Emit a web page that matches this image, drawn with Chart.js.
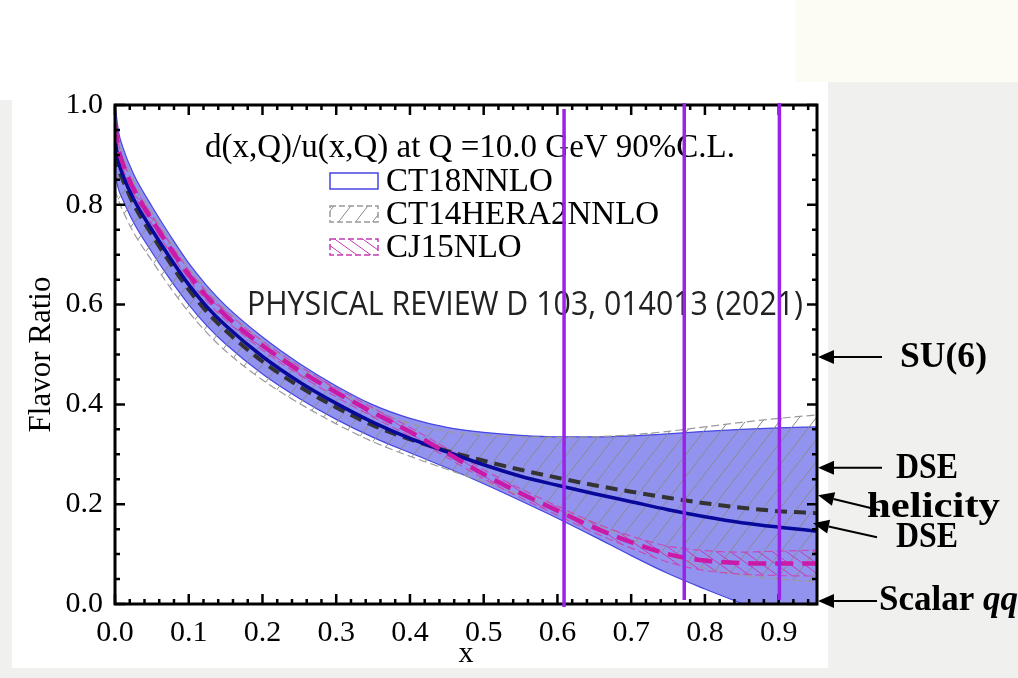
<!DOCTYPE html>
<html lang="en">
<head>
<meta charset="UTF-8" />
<title>d/u flavor ratio</title>
<script src="https://cdn.jsdelivr.net/npm/chart.js"></script>
<style>
    html, body { margin: 0; padding: 0; width: 1018px; height: 678px; overflow: hidden; background: #f0f0ee; }
    .topband { position: absolute; left: 0; top: 0; width: 800px; height: 100px; background: #fff; }
    .cream { position: absolute; left: 795px; top: 0; width: 223px; height: 82px; background: #fcfcf4; }
    .panel { position: absolute; left: 12px; top: 82px; width: 816px; height: 586px; background: #fff; }
    #wrap { position: absolute; left: 0; top: 0; width: 1018px; height: 678px; }
</style>
</head>
<body>
<div class="topband"></div>
<div class="cream"></div>
<div class="panel"></div>
<div id="wrap"><canvas id="ratioChart"></canvas></div>

<script>
// x grid and the curves
const xs = [0, 0.005, 0.01, 0.025, 0.05, 0.075, 0.1, 0.125, 0.15, 0.2, 0.25, 0.3, 0.35, 0.4, 0.45, 0.5, 0.55, 0.6, 0.65, 0.7, 0.75, 0.8, 0.85, 0.9, 0.952];

const ct18Central = [0.93, 0.885, 0.862, 0.812, 0.75, 0.693, 0.64, 0.595, 0.558, 0.496, 0.445, 0.402, 0.364, 0.332, 0.305, 0.279, 0.256, 0.238, 0.221, 0.205, 0.189, 0.175, 0.163, 0.154, 0.146];
const ct18Upper   = [1.0, 0.945, 0.918, 0.862, 0.797, 0.738, 0.683, 0.637, 0.598, 0.535, 0.482, 0.437, 0.399, 0.372, 0.354, 0.344, 0.338, 0.335, 0.335, 0.337, 0.341, 0.346, 0.35, 0.353, 0.355];
const ct18Lower   = [0.86, 0.83, 0.812, 0.765, 0.705, 0.65, 0.6, 0.557, 0.521, 0.461, 0.412, 0.37, 0.334, 0.303, 0.273, 0.241, 0.207, 0.172, 0.135, 0.097, 0.061, 0.03, 0.001, -0.027, -0.055];

const ct14Central = [0.90, 0.87, 0.852, 0.802, 0.74, 0.683, 0.63, 0.585, 0.548, 0.486, 0.436, 0.394, 0.358, 0.33, 0.307, 0.287, 0.269, 0.253, 0.238, 0.225, 0.213, 0.202, 0.193, 0.186, 0.182];
const ct14Upper   = [0.97, 0.925, 0.9, 0.848, 0.785, 0.727, 0.673, 0.628, 0.59, 0.526, 0.474, 0.428, 0.39, 0.362, 0.346, 0.338, 0.335, 0.334, 0.335, 0.339, 0.346, 0.355, 0.364, 0.372, 0.379];
const ct14Lower   = [0.83, 0.808, 0.79, 0.745, 0.688, 0.634, 0.585, 0.543, 0.507, 0.449, 0.402, 0.361, 0.325, 0.296, 0.27, 0.245, 0.218, 0.19, 0.16, 0.13, 0.098, 0.072, 0.058, 0.05, 0.044];

const cj15Central = [0.96, 0.91, 0.885, 0.832, 0.77, 0.713, 0.66, 0.615, 0.578, 0.518, 0.468, 0.424, 0.384, 0.345, 0.303, 0.26, 0.222, 0.187, 0.153, 0.124, 0.1, 0.087, 0.082, 0.081, 0.081];
const cj15Upper   = [0.975, 0.92, 0.894, 0.841, 0.779, 0.722, 0.669, 0.624, 0.587, 0.527, 0.477, 0.433, 0.393, 0.354, 0.312, 0.269, 0.231, 0.196, 0.163, 0.136, 0.116, 0.107, 0.104, 0.106, 0.108];
const cj15Lower   = [0.945, 0.9, 0.876, 0.823, 0.761, 0.704, 0.651, 0.606, 0.569, 0.509, 0.459, 0.415, 0.375, 0.336, 0.294, 0.251, 0.213, 0.178, 0.143, 0.112, 0.084, 0.067, 0.06, 0.057, 0.056];

// purple vertical markers
const purpleX      = [0.609, 0.772, 0.901];
const purpleTop    = [0.992, 1.004, 1.004];
const purpleBottom = [-0.006, 0.008, 0.008];

// labels + arrow targets on the right
const noteLabels = ['SU(6)', 'DSE', 'helicity', 'DSE', 'Scalar qq'];
const noteY      = [0.495, 0.273, 0.218, 0.162, 0.006];

const legendLabels = ['CT18NNLO', 'CT14HERA2NNLO', 'CJ15NLO'];
const legendTitle = 'd(x,Q)/u(x,Q) at Q =10.0 GeV 90%C.L.';
const sourceNote = 'PHYSICAL REVIEW D 103, 014013 (2021)';

const serif = '"Liberation Serif", "Times New Roman", serif';

function hatchPattern(color, w, h, dir) {
    const c = document.createElement('canvas');
    c.width = w; c.height = h;
    const g = c.getContext('2d');
    g.strokeStyle = color;
    g.lineWidth = 1;
    g.beginPath();
    if (dir > 0) { g.moveTo(-w, 2 * h); g.lineTo(2 * w, -h); }
    else { g.moveTo(-w, -h); g.lineTo(2 * w, 2 * h); }
    g.stroke();
    return g.createPattern(c, 'repeat');
}

const blueFill = 'rgba(95, 95, 232, 0.68)';
const greyHatch = hatchPattern('#8a8a8a', 17, 22, 1);
const pinkHatch = hatchPattern('#c43cb4', 14, 10, -1);

const pts = ys => xs.map((x, i) => ({ x: x, y: ys[i] }));
const vline = i => [{ x: purpleX[i], y: purpleTop[i] }, { x: purpleX[i], y: purpleBottom[i] }];

const edge = (data, color, dash, fill, bg, order) => ({
    data: data, borderColor: color, borderWidth: 1.2, borderDash: dash,
    fill: fill, backgroundColor: bg, order: order,
    pointRadius: 0, cubicInterpolationMode: 'monotone'
});
const central = (data, color, width, dash, order) => ({
    data: data, borderColor: color, borderWidth: width, borderDash: dash,
    fill: false, order: order, pointRadius: 0, cubicInterpolationMode: 'monotone'
});
const purple = i => ({
    data: vline(i), borderColor: '#9b22e8', borderWidth: 3.5, fill: false,
    pointRadius: 0, order: 1, clip: false
});

const FRAME_AFTER = 8; // draw frame/legend after the CJ15 central line, before purple markers

const frameAndLegend = {
    id: 'frameAndLegend',
    afterDatasetDraw(chart, args) {
        if (args.index !== FRAME_AFTER) return;
        const { ctx, chartArea: a, scales: { x, y } } = chart;
        ctx.save();
        ctx.strokeStyle = '#000';
        ctx.lineWidth = 2.5;
        ctx.setLineDash([]);
        // inward ticks, all four sides
        for (let i = 0; i * 0.02 <= 0.952; i++) {
            const px = x.getPixelForValue(i * 0.02);
            const len = i % 5 === 0 ? 10 : 5;
            ctx.beginPath();
            ctx.moveTo(px, a.bottom); ctx.lineTo(px, a.bottom - len);
            ctx.moveTo(px, a.top); ctx.lineTo(px, a.top + len);
            ctx.stroke();
        }
        for (let i = 0; i <= 20; i++) {
            const py = y.getPixelForValue(i * 0.05);
            const len = i % 4 === 0 ? 10 : 5;
            ctx.beginPath();
            ctx.moveTo(a.left, py); ctx.lineTo(a.left + len, py);
            ctx.moveTo(a.right, py); ctx.lineTo(a.right - len, py);
            ctx.stroke();
        }
        ctx.lineWidth = 3;
        ctx.strokeRect(a.left, a.top, a.right - a.left, a.bottom - a.top);

        // legend
        ctx.fillStyle = '#000';
        ctx.textBaseline = 'middle';
        ctx.textAlign = 'left';
        ctx.font = '33px ' + serif;
        ctx.fillText(legendTitle, 205, 148);

        const rows = [181, 214, 247];
        ctx.font = '33px ' + serif;
        legendLabels.forEach((lab, i) => {
            const by = rows[i] - 8;
            ctx.save();
            ctx.lineWidth = 1.5;
            if (i === 0) {
                ctx.fillStyle = '#fff';
                ctx.strokeStyle = '#4646e0';
            } else if (i === 1) {
                ctx.fillStyle = greyHatch;
                ctx.strokeStyle = '#999';
                ctx.setLineDash([6, 3]);
            } else {
                ctx.fillStyle = pinkHatch;
                ctx.strokeStyle = '#c43cb4';
                ctx.setLineDash([6, 3]);
            }
            ctx.fillRect(330, by, 48, 16);
            ctx.strokeRect(330, by, 48, 16);
            ctx.restore();
            ctx.fillText(lab, 386, rows[i] + 1);
        });

        // source reference, squeezed to the width it has in the figure
        ctx.font = '32px "Open Sans", "Liberation Sans", sans-serif';
        ctx.fillStyle = '#222';
        const w = ctx.measureText(sourceNote).width;
        ctx.save();
        ctx.translate(247, 306);
        ctx.scale(556 / w, 1);
        ctx.fillText(sourceNote, 0, 0);
        ctx.restore();
        ctx.restore();
    }
};

function arrow(ctx, x1, y1, x2, y2) {
    const ang = Math.atan2(y2 - y1, x2 - x1);
    const hl = 16, hw = 7;
    const bx = x2 - hl * Math.cos(ang), by = y2 - hl * Math.sin(ang);
    ctx.beginPath();
    ctx.moveTo(x1, y1); ctx.lineTo(bx, by);
    ctx.stroke();
    ctx.beginPath();
    ctx.moveTo(x2, y2);
    ctx.lineTo(bx + hw * Math.sin(ang), by - hw * Math.cos(ang));
    ctx.lineTo(bx - hw * Math.sin(ang), by + hw * Math.cos(ang));
    ctx.closePath();
    ctx.fill();
}

// tail, text offsets and text width for each note (pixels)
const noteLayout = [
    { tipDx: 0, tailX: 882, tailDy: 0, textX: 900, textDy: 1, width: 87 },
    { tipDx: 0, tailX: 882, tailDy: 0, textX: 896, textDy: 1, width: 62 },
    { tipDx: 0, tailX: 880, tailDy: 15, textX: 867, textDy: 13, width: 133 },
    { tipDx: -5, tailX: 877, tailDy: 14, textX: 896, textDy: 15, width: 62 },
    { tipDx: 0, tailX: 877, tailDy: 0, textX: 879, textDy: 0, width: 0 }
];

const sideNotes = {
    id: 'sideNotes',
    afterDraw(chart) {
        const { ctx, chartArea: a, scales: { y } } = chart;
        ctx.save();
        ctx.fillStyle = '#000';
        ctx.strokeStyle = '#000';
        ctx.lineWidth = 2;
        ctx.textBaseline = 'middle';
        ctx.textAlign = 'left';
        noteLabels.forEach((lab, i) => {
            const L = noteLayout[i];
            const ty = y.getPixelForValue(noteY[i]);
            arrow(ctx, L.tailX, ty + L.tailDy, a.right + 1 + L.tipDx, ty);
            ctx.font = 'bold 35px ' + serif;
            if (lab === 'Scalar qq') {
                ctx.fillText('Scalar ', L.textX, ty + L.textDy);
                const w = ctx.measureText('Scalar ').width;
                ctx.font = 'italic bold 35px ' + serif;
                ctx.fillText('qq', L.textX + w, ty + L.textDy);
            } else {
                const w = ctx.measureText(lab).width;
                ctx.save();
                ctx.translate(L.textX, ty + L.textDy);
                ctx.scale(L.width / w, 1);
                ctx.fillText(lab, 0, 0);
                ctx.restore();
            }
        });
        ctx.restore();
    }
};

const ctx = document.getElementById('ratioChart').getContext('2d');
const ratioChart = new Chart(ctx, {
    type: 'line',
    data: {
        datasets: [
            edge(pts(ct18Upper), '#4646e0', [], '+1', blueFill, 10),
            edge(pts(ct18Lower), '#4646e0', [], false, undefined, 9),
            edge(pts(ct14Upper), '#9a9a9a', [8, 4], '+1', greyHatch, 8),
            edge(pts(ct14Lower), '#9a9a9a', [8, 4], false, undefined, 7),
            edge(pts(cj15Upper), '#c84cb8', [8, 4], '+1', pinkHatch, 6),
            edge(pts(cj15Lower), '#c84cb8', [8, 4], false, undefined, 5),
            central(pts(ct14Central), '#333333', 4, [12, 7], 4),
            central(pts(ct18Central), '#08089a', 3.5, [], 3),
            central(pts(cj15Central), '#cc1aa8', 4.5, [18, 9], 2),
            purple(0), purple(1), purple(2)
        ]
    },
    options: {
        responsive: true,
        maintainAspectRatio: false,
        animation: false,
        layout: { padding: { left: 12, right: 201, top: 105, bottom: 6 } },
        plugins: { legend: { display: false }, tooltip: { enabled: false } },
        scales: {
            x: {
                type: 'linear', min: 0, max: 0.952,
                grid: { display: false }, border: { display: false },
                ticks: {
                    stepSize: 0.1, includeBounds: false, autoSkip: false, maxRotation: 0,
                    padding: 3, color: '#000', font: { family: serif, size: 30 },
                    callback: v => v.toFixed(1)
                },
                title: { display: true, text: 'x', color: '#000', font: { family: serif, size: 30 }, padding: { top: 0, bottom: 0 } },
                afterFit: s => { s.height = 68; }
            },
            y: {
                min: 0, max: 1,
                grid: { display: false }, border: { display: false },
                ticks: {
                    stepSize: 0.2, padding: 4, color: '#000', font: { family: serif, size: 30 },
                    callback: v => v.toFixed(1)
                },
                title: { display: true, text: 'Flavor Ratio', color: '#000', font: { family: serif, size: 31 }, padding: { top: 11, bottom: 11 } },
                afterFit: s => { s.width = 103; }
            }
        }
    },
    plugins: [frameAndLegend, sideNotes]
});
</script>
</body>
</html>
